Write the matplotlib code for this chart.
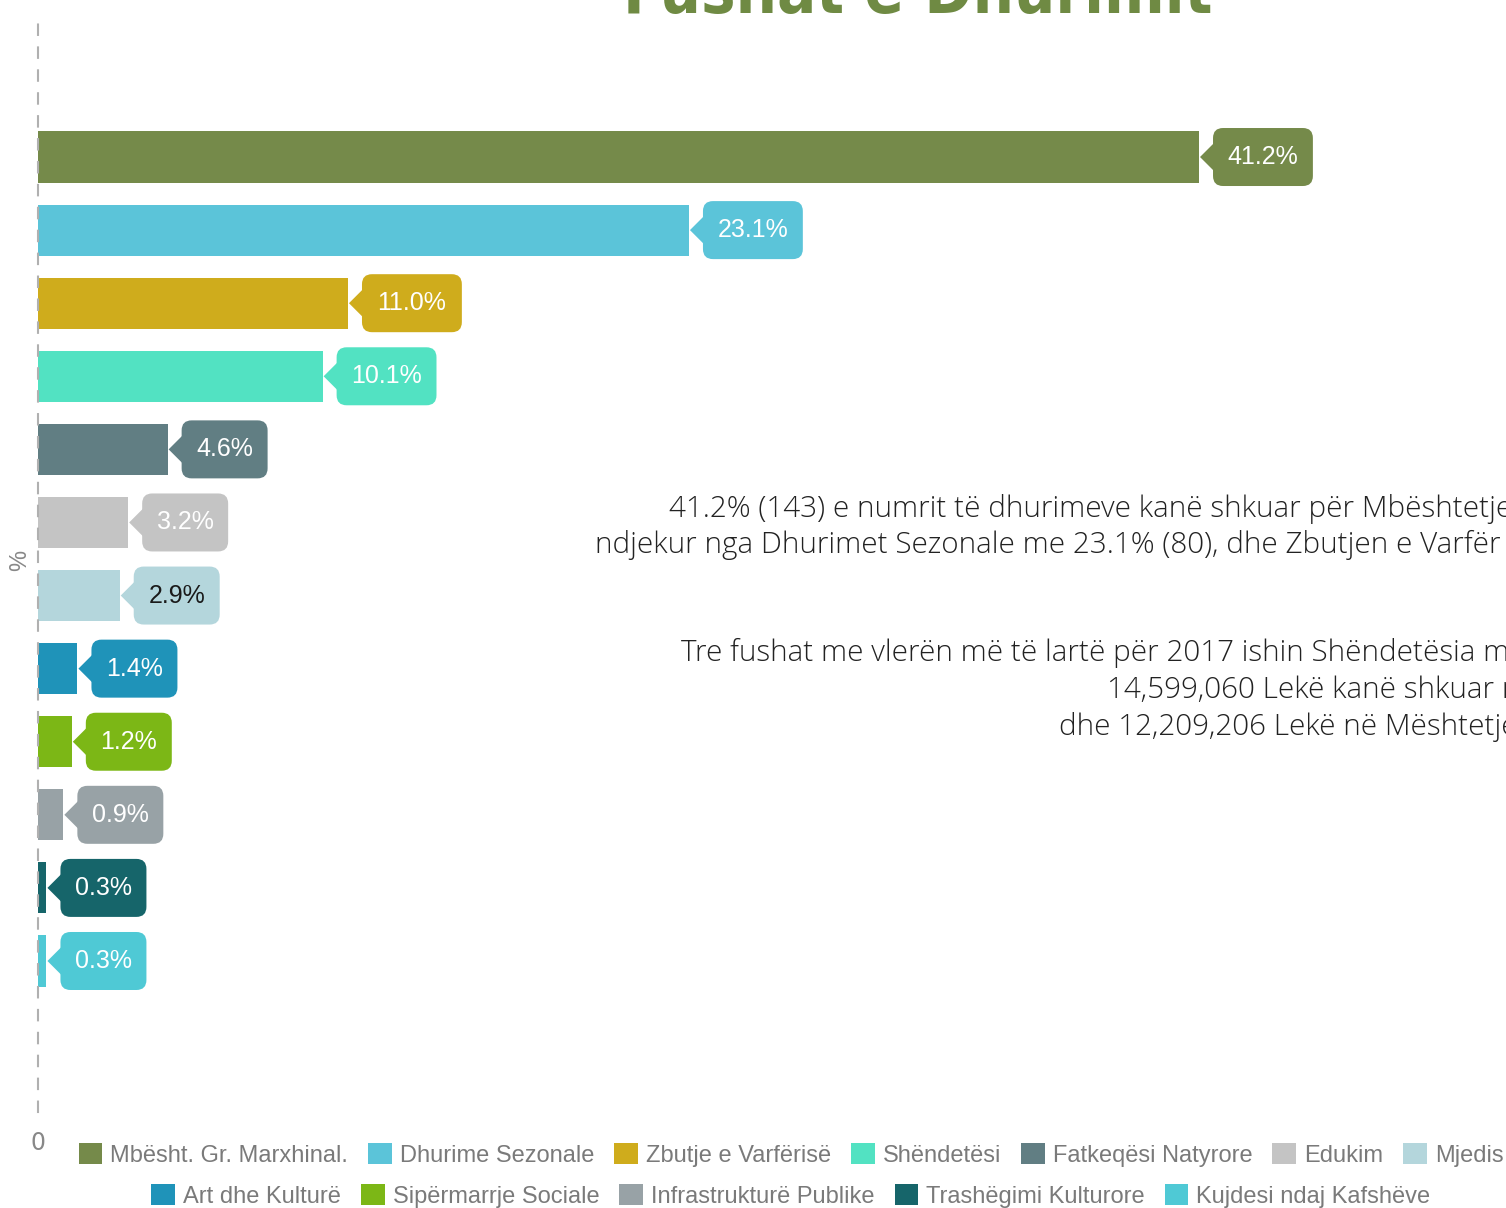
import matplotlib
matplotlib.use('Agg')
import matplotlib.pyplot as plt
from matplotlib.patches import FancyBboxPatch, Polygon, Patch
from matplotlib.transforms import IdentityTransform
import numpy as np

categories = ["Mbësht. Gr. Marxhinal.", "Dhurime Sezonale", "Zbutje e Varfërisë",
              "Shëndetësi", "Fatkeqësi Natyrore", "Edukim", "Mjedis",
              "Art dhe Kulturë", "Sipërmarrje Sociale", "Infrastrukturë Publike",
              "Trashëgimi Kulturore", "Kujdesi ndaj Kafshëve"]
values = [41.2, 23.1, 11.0, 10.1, 4.6, 3.2, 2.9, 1.4, 1.2, 0.9, 0.3, 0.3]
value_labels = ["41.2%", "23.1%", "11.0%", "10.1%", "4.6%", "3.2%", "2.9%",
                "1.4%", "1.2%", "0.9%", "0.3%", "0.3%"]
colors = ["#758a4a", "#5bc4d9", "#cfac1c", "#52e2c2", "#617e83", "#c4c4c4",
          "#b4d6dc", "#1f93b9", "#7cb716", "#98a2a6", "#16656a", "#4fc9d5"]
label_text_colors = ["white"] * 6 + ["#1a1a1a"] + ["white"] * 5

title = "Fushat e Dhurimit"
note_lines = [
    "41.2% (143) e numrit të dhurimeve kanë shkuar për Mbështetje",
    "ndjekur nga Dhurimet Sezonale me 23.1% (80), dhe Zbutjen e Varfër",
    "Tre fushat me vlerën më të lartë për 2017 ishin Shëndetësia me",
    "14,599,060 Lekë kanë shkuar në",
    "dhe 12,209,206 Lekë në Mështetje",
]

W, H = 1506, 1208
fig = plt.figure(figsize=(W / 100, H / 100), dpi=100)
ax = fig.add_axes([38 / W, (H - 1112) / H, (W - 38) / W, (1112 - 15) / H])

ypos = np.arange(len(values))
ax.barh(ypos, values, height=0.70, color=colors)
ax.set_xlim(0, (W - 38) / 28.18)
ax.set_ylim(len(values) - 1 + 2.066, -1.943)

for s in ["top", "right", "bottom"]:
    ax.spines[s].set_visible(False)
ax.spines["left"].set_color("#b0b0b0")
ax.spines["left"].set_linewidth(1.5)
ax.spines["left"].set_linestyle((0, (5, 6)))
ax.set_yticks([])
ax.set_xticks([0])
ax.set_xticklabels(["0"])
ax.tick_params(axis="x", length=0, pad=14, labelsize=17, labelcolor="#888888")
fig.text(20 / W, 1 - 560 / H, "%", rotation=90, ha="center", va="center",
         fontsize=17, color="#888888", family="Liberation Sans")

# callouts
ident = IdentityTransform()
for i, (v, lab, c, tc) in enumerate(zip(values, value_labels, colors, label_text_colors)):
    xe, yc = ax.transData.transform((v, i))
    ndig = sum(ch.isdigit() for ch in lab)
    w = 29 + 25 * (0.556 * ndig + 0.278 + 0.889)
    bx = xe + 14
    box = FancyBboxPatch((bx, yc - 29), w, 58,
                         boxstyle="round,pad=0,rounding_size=10",
                         transform=ident, facecolor=c, edgecolor="none")
    fig.add_artist(box)
    tri = Polygon([(xe + 1, yc), (bx + 2, yc + 15), (bx + 2, yc - 15)],
                  closed=True, transform=ident, facecolor=c, edgecolor="none")
    fig.add_artist(tri)
    fig.text(bx + w / 2, yc, lab, transform=ident, ha="center", va="center",
             fontsize=18, color=tc, family="Liberation Sans")

# title (cropped at top)
t = fig.text(918 / W, 1 - 13 / H, title, ha="center", va="baseline",
             fontsize=60, fontweight="bold", fontstretch="condensed", color="#6f8a43",
             family=["DejaVu Sans"])
fig.canvas.draw()
bb = t.get_window_extent()
t.set_fontsize(60 * 590 / bb.width)

# note text
note_pos = [(669, 509), (595, 545), (681, 653), (1107, 690), (1059, 727)]
for (x, y), line in zip(note_pos, note_lines):
    fig.text(x / W, 1 - y / H, line, ha="left", va="center", fontsize=21.3,
             fontweight="light", color="#222222", family=["Open Sans", "DejaVu Sans"])

# legend
handles = [Patch(facecolor=c, edgecolor="none", label=n) for c, n in zip(colors, categories)]
leg_kw = dict(frameon=False, handlelength=1.0, handleheight=1.0,
              handletextpad=0.34, columnspacing=0.85, borderpad=0, borderaxespad=0,
              labelcolor="#7a7a7a", prop={"family": "Liberation Sans", "size": 17})
fig.legend(handles=handles[:7], loc="center", ncol=7,
           bbox_to_anchor=(791 / W, 1 - 1155 / H), **leg_kw)
fig.legend(handles=handles[7:], loc="center", ncol=5,
           bbox_to_anchor=(791 / W, 1 - 1196 / H), **leg_kw)

fig.savefig("out.png", dpi=100)
